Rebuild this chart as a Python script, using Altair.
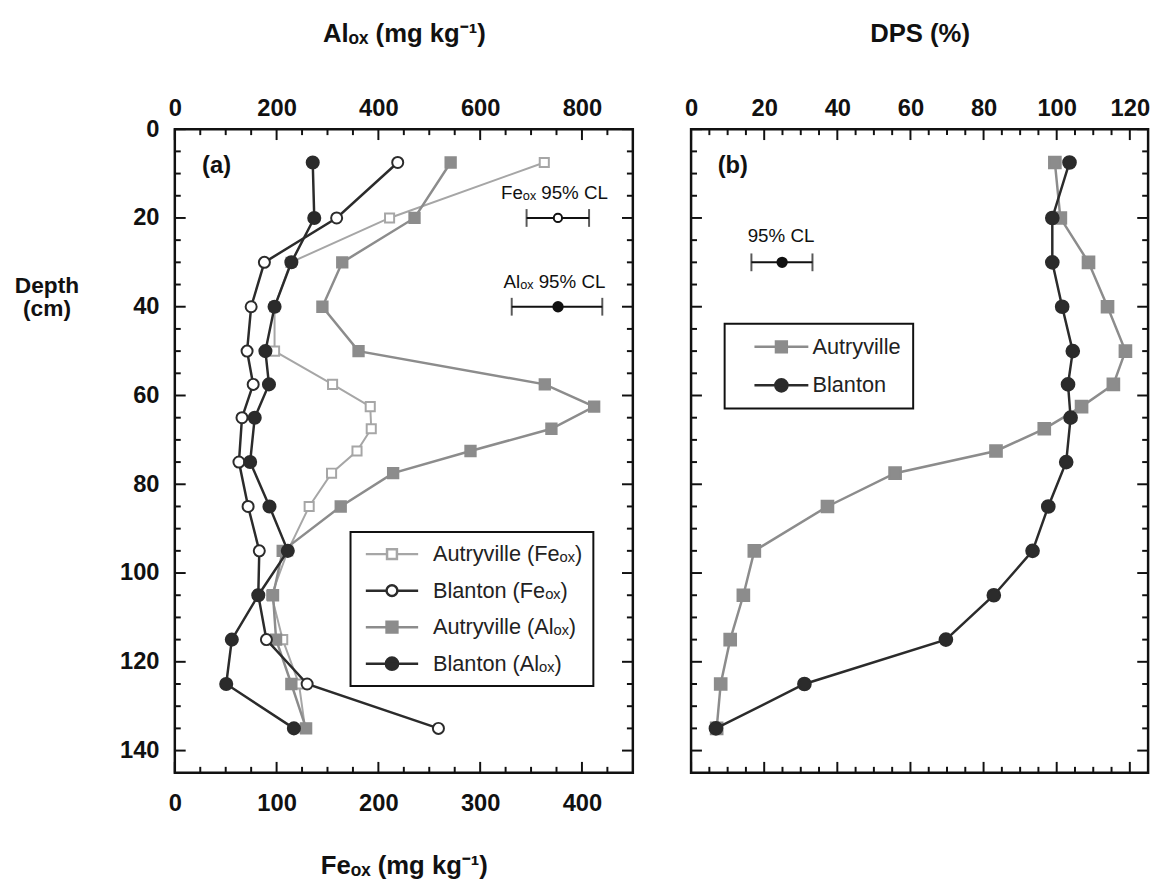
import altair as alt
import pandas as pd

# ---------------- data ----------------
blanton_depth = [7.5, 20, 30, 40, 50, 57.5, 65, 75, 85, 95, 105, 115, 125, 135]
blanton_fe = [219, 159, 88, 75, 71, 77, 66, 63, 72, 83, 82, 90, 130, 259]
blanton_al = [271, 274, 229, 196, 178, 185, 157, 148, 186, 222, 164, 112, 101, 234]
blanton_dps = [103.5, 98.8, 98.8, 101.5, 104.4, 103.1, 103.8, 102.6, 97.7, 93.4, 82.8, 69.7, 31.0, 6.8]

autry_depth = [7.5, 20, 30, 40, 50, 57.5, 62.5, 67.5, 72.5, 77.5, 85, 95, 105, 115, 125, 135]
autry_fe = [363, 211, 114, 98, 98, 155, 192, 193, 179, 154, 132, 111, 95, 106, 122, 128]
autry_al = [542, 471, 329, 290, 361, 727, 824, 740, 581, 429, 326, 212, 193, 199, 229, 258]
autry_dps = [99.5, 101.0, 108.7, 113.9, 118.8, 115.5, 106.8, 96.6, 83.4, 55.8, 37.3, 17.3, 14.3, 10.7, 8.1, 7.0]

# 95% confidence limits: [low, mid, high] and the depth they are drawn at
fe_cl = [345.6, 376.4, 407.0]
fe_cl_depth = 20
al_cl = [662, 753, 840]
al_cl_depth = 40
dps_cl = [16.5, 24.9, 33.2]
dps_cl_depth = 30

# tick values
fe_labels = [0, 100, 200, 300, 400]
fe_minor = [25, 50, 75, 125, 150, 175, 225, 250, 275, 325, 350, 375, 425]
al_labels = [0, 200, 400, 600, 800]
al_minor = [50, 100, 150, 250, 300, 350, 450, 500, 550, 650, 700, 750, 850]
dps_labels = [0, 20, 40, 60, 80, 100, 120]
dps_minor = [5, 10, 15, 25, 30, 35, 45, 50, 55, 65, 70, 75, 85, 90, 95, 105, 110, 115]
depth_labels = [0, 20, 40, 60, 80, 100, 120, 140]
depth_minor = [5, 10, 15, 25, 30, 35, 45, 50, 55, 65, 70, 75, 85, 90, 95, 105, 110, 115, 125, 130, 135]

legend_names_a = ["Autryville (Feₒₓ)", "Blanton (Feₒₓ)", "Autryville (Alₒₓ)", "Blanton (Alₒₓ)"]
legend_names_b = ["Autryville", "Blanton"]

# ---------------- styling ----------------
FONT = "Liberation Sans, Arial, Helvetica, sans-serif"
INK = "#111111"
DARK = "#2b2b2b"
MID = "#8c8c8c"
LIGHT = "#a6a6a6"
W_A, W_B, H = 464, 463, 652
MAJ, MIN = 11, 6

fe_scale = alt.Scale(domain=[0, 450], nice=False, zero=False)
al_scale = alt.Scale(domain=[0, 900], nice=False, zero=False)
dps_scale = alt.Scale(domain=[0, 125], nice=False, zero=False)
y_scale = alt.Scale(domain=[0, 145], nice=False, zero=False, reverse=True)

lab = dict(labelFont=FONT, labelFontSize=24, labelFontWeight="bold", labelColor=INK,
           ticks=False, tickSize=0, domain=False, grid=False)
tit = dict(titleFont=FONT, titleFontWeight="bold", titleColor=INK)

y_axis_a = alt.Axis(values=depth_labels, labelPadding=16, title=["Depth", "(cm)"], titleAngle=0,
                    titleAlign="center", titleBaseline="middle", titleX=-130, titleY=158,
                    titleLineHeight=24, titleFontSize=23, **lab, **tit)
fe_axis = alt.Axis(orient="bottom", values=fe_labels, format="d", labelFlush=False, labelPadding=19,
                   title="Feₒₓ (mg kg⁻¹)", titleX=W_A / 2, titleY=94, titleAlign="center",
                   titleBaseline="middle", titleFontSize=26, **lab, **tit)
al_axis = alt.Axis(orient="top", values=al_labels, format="d", labelFlush=False, labelPadding=9,
                   title="Alₒₓ (mg kg⁻¹)", titleX=W_A / 2, titleY=-97, titleAlign="center",
                   titleBaseline="middle", titleFontSize=26, **lab, **tit)
dps_axis = alt.Axis(orient="top", values=dps_labels, format="d", labelFlush=False, labelPadding=9,
                    title="DPS (%)", titleX=W_B / 2, titleY=-97, titleAlign="center",
                    titleBaseline="middle", titleFontSize=26, **lab, **tit)

df_bl = pd.DataFrame({"depth": blanton_depth, "fe": blanton_fe, "al": blanton_al, "dps": blanton_dps})
df_au = pd.DataFrame({"depth": autry_depth, "fe": autry_fe, "al": autry_al, "dps": autry_dps})


def yenc(axis):
    return alt.Y("depth:Q", scale=y_scale, axis=axis)


def series(df, field, scale, axis, yaxis, color, shape, fill, size, sw):
    return alt.Chart(df).mark_line(
        color=color, strokeWidth=sw,
        point=alt.OverlayMarkDef(shape=shape, filled=True, fill=fill, stroke=color,
                                 size=size, strokeWidth=2, opacity=1),
    ).encode(x=alt.X(f"{field}:Q", scale=scale, axis=axis), y=yenc(yaxis),
             order=alt.Order("depth:Q"))


def ticks_x(vals, scale, top, length):
    d = pd.DataFrame({"v": vals})
    if top:
        yy = dict(y=alt.value(0), y2=alt.value(length))
    else:
        yy = dict(y=alt.value(H), y2=alt.value(H - length))
    return alt.Chart(d).mark_rule(color=INK, strokeWidth=2).encode(
        x=alt.X("v:Q", scale=scale, axis=None), **yy)


def ticks_y(vals, left, length, w, yaxis):
    d = pd.DataFrame({"depth": vals})
    if left:
        xx = dict(x=alt.value(0), x2=alt.value(length))
    else:
        xx = dict(x=alt.value(w), x2=alt.value(w - length))
    return alt.Chart(d).mark_rule(color=INK, strokeWidth=2).encode(y=yenc(yaxis), **xx)


def cl_layers(cl, depth, field, scale, yaxis, fill, size):
    bar = pd.DataFrame({"lo": [cl[0]], "hi": [cl[2]], "depth": [depth]})
    caps = pd.DataFrame({field: [cl[0], cl[2]], "depth": [depth, depth]})
    mid = pd.DataFrame({field: [cl[1]], "depth": [depth]})
    l1 = alt.Chart(bar).mark_rule(color=INK, strokeWidth=2).encode(
        x=alt.X("lo:Q", scale=scale, axis=None), x2="hi:Q", y=yenc(yaxis))
    l2 = alt.Chart(caps).mark_tick(orient="vertical", color=INK, thickness=2, size=18).encode(
        x=alt.X(f"{field}:Q", scale=scale, axis=None), y=yenc(yaxis))
    l3 = alt.Chart(mid).mark_point(shape="circle", filled=True, fill=fill, stroke=INK,
                                   strokeWidth=2, size=size, opacity=1).encode(
        x=alt.X(f"{field}:Q", scale=scale, axis=None), y=yenc(yaxis))
    return [l1, l2, l3]


def text_layer(labels, field, xs, depths, scale, yaxis, size, weight="normal"):
    d = pd.DataFrame({"label": labels, field: xs, "depth": depths})
    return alt.Chart(d).mark_text(font=FONT, fontSize=size, fontWeight=weight, color=INK,
                                  align="center", baseline="middle").encode(
        x=alt.X(f"{field}:Q", scale=scale, axis=None), y=yenc(yaxis), text="label:N")


# legend symbol paths (unit coordinates, scaled by sqrt(symbolSize)/2)
def paths(half):
    return {
        "open_sq": f"M-{half},0H-0.5M0.5,0H{half}M-0.5,-0.5H0.5V0.5H-0.5Z",
        "open_ci": f"M-{half},0H-0.55M0.55,0H{half}M0.55,0A0.55,0.55 0 1,1 -0.55,0A0.55,0.55 0 1,1 0.55,0Z",
        "sq": f"M-{half},0H{half}M-0.55,-0.55H0.55V0.55H-0.55Z",
        "ci": f"M-{half},0H{half}M0.62,0A0.62,0.62 0 1,1 -0.62,0A0.62,0.62 0 1,1 0.62,0Z",
    }


def legend_layer(names, shapes, fills, strokes, leg):
    d = pd.DataFrame({"series": names})
    return alt.Chart(d).transform_filter("false").mark_point(filled=True, opacity=1).encode(
        shape=alt.Shape("series:N", scale=alt.Scale(domain=names, range=shapes), legend=leg),
        fill=alt.Fill("series:N", scale=alt.Scale(domain=names, range=fills), legend=leg),
        stroke=alt.Stroke("series:N", scale=alt.Scale(domain=names, range=strokes), legend=leg),
    )


leg_common = dict(title=None, orient="none", direction="vertical", symbolSize=400,
                  symbolStrokeWidth=2.5, labelFont=FONT, labelFontSize=22, labelColor="#222222",
                  strokeColor=INK, fillColor="white", labelLimit=400)
legend_a = alt.Legend(legendX=178, legendY=408, labelOffset=30, symbolOffset=19.5, rowPadding=14,
                      padding=11, **leg_common)
legend_b = alt.Legend(legendX=34, legendY=197, labelOffset=20, symbolOffset=34, rowPadding=16,
                      padding=12, **leg_common)

pa = paths(2.65)
pb = paths(2.73)

# ---------------- panel (a) ----------------
layers_a = [
    ticks_x(al_labels, al_scale, True, MAJ),
    ticks_x(al_minor, al_scale, True, MIN),
    ticks_x(fe_labels, fe_scale, False, MAJ),
    ticks_x(fe_minor, fe_scale, False, MIN),
    ticks_y(depth_labels, True, MAJ, W_A, y_axis_a),
    ticks_y(depth_minor, True, MIN, W_A, y_axis_a),
    ticks_y(depth_labels, False, MAJ, W_A, y_axis_a),
    ticks_y(depth_minor, False, MIN, W_A, y_axis_a),
    series(df_au, "fe", fe_scale, None, y_axis_a, LIGHT, "square", "white", 85, 2),
    series(df_au, "al", al_scale, None, y_axis_a, MID, "square", MID, 110, 2.5),
    series(df_bl, "fe", fe_scale, fe_axis, y_axis_a, DARK, "circle", "white", 125, 2.5),
    series(df_bl, "al", al_scale, al_axis, y_axis_a, DARK, "circle", DARK, 150, 2.5),
]
layers_a += cl_layers(fe_cl, fe_cl_depth, "fe", fe_scale, y_axis_a, "white", 70)
layers_a += cl_layers(al_cl, al_cl_depth, "al", al_scale, y_axis_a, INK, 90)
layers_a += [
    text_layer(["(a)"], "fe", [41], [8.4], fe_scale, y_axis_a, 24, "bold"),
    text_layer(["Feₒₓ 95% CL"], "fe", [373], [14.4], fe_scale, y_axis_a, 19),
    text_layer(["Alₒₓ 95% CL"], "al", [746], [34.4], al_scale, y_axis_a, 19),
    legend_layer(legend_names_a, [pa["open_sq"], pa["open_ci"], pa["sq"], pa["ci"]],
                 ["white", "white", MID, DARK], [LIGHT, DARK, MID, DARK], legend_a),
]
panel_a = alt.layer(*layers_a).resolve_scale(x="independent").properties(width=W_A, height=H)

# ---------------- panel (b) ----------------
layers_b = [
    ticks_x(dps_labels, dps_scale, True, MAJ),
    ticks_x(dps_minor, dps_scale, True, MIN),
    ticks_x(dps_labels, dps_scale, False, MAJ),
    ticks_x(dps_minor, dps_scale, False, MIN),
    ticks_y(depth_labels, True, MAJ, W_B, None),
    ticks_y(depth_minor, True, MIN, W_B, None),
    ticks_y(depth_labels, False, MAJ, W_B, None),
    ticks_y(depth_minor, False, MIN, W_B, None),
    series(df_au, "dps", dps_scale, None, None, MID, "square", MID, 140, 2.5),
    series(df_bl, "dps", dps_scale, dps_axis, None, DARK, "circle", DARK, 165, 2.5),
]
layers_b += cl_layers(dps_cl, dps_cl_depth, "dps", dps_scale, None, INK, 90)
layers_b += [
    text_layer(["(b)"], "dps", [11.4], [8.4], dps_scale, None, 24, "bold"),
    text_layer(["95% CL"], "dps", [24.6], [24], dps_scale, None, 19),
    legend_layer(legend_names_b, [pb["sq"], pb["ci"]], [MID, DARK], [MID, DARK], legend_b),
]
panel_b = alt.layer(*layers_b).resolve_scale(x="independent").properties(width=W_B, height=H)

chart = (
    alt.hconcat(panel_a, panel_b, spacing=48)
    .resolve_scale(x="independent", y="independent", shape="independent",
                   fill="independent", stroke="independent")
    .resolve_legend(shape="independent", fill="independent", stroke="independent")
    .configure(font=FONT)
    .configure_view(stroke=INK, strokeWidth=2.5)
    .configure_legend(strokeWidth=2)
)

chart.save("out.html", embed_options={"renderer": "svg", "actions": False})
